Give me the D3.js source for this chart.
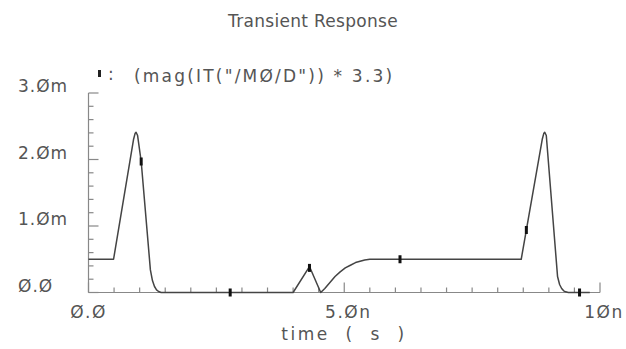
<!DOCTYPE html>
<html>
<head>
<meta charset="utf-8">
<script src="https://cdn.jsdelivr.net/npm/d3@7"></script>
<style>
  body { margin: 0; background: #fff; }
  svg text { font-family: "DejaVu Sans", sans-serif; fill: #555; white-space: pre; }
</style>
</head>
<body>
<div id="chart-container" style="width:626px;height:349px"></div>
<script>
// waveform, time in ns, current in mA
var timeNs = [0, 0.49, 0.88, 0.91, 0.93, 0.96, 1.03, 1.21, 1.25, 1.29, 1.33, 1.37, 1.42, 1.5,
    4.0, 4.32, 4.54, 4.62, 4.72, 4.82, 4.92, 5.02, 5.12, 5.22, 5.31, 5.4, 5.5, 5.6,
    8.46, 8.87, 8.9, 8.92, 8.95, 9.17, 9.21, 9.25, 9.29, 9.33, 9.38, 9.8];
var currentMa = [0.5, 0.5, 2.3, 2.39, 2.41, 2.36, 1.97, 0.34, 0.18, 0.09, 0.04, 0.015, 0, 0,
    0, 0.39, 0, 0.06, 0.15, 0.24, 0.31, 0.37, 0.41, 0.45, 0.47, 0.49, 0.5, 0.5,
    0.5, 2.3, 2.39, 2.41, 2.36, 0.24, 0.12, 0.06, 0.025, 0.01, 0, 0];
var markerT = [1.03, 2.77, 4.32, 6.09, 8.56, 9.6];
var markerV = [1.97, 0, 0.37, 0.5, 0.94, 0];

var xTickLabels = ["Ø.Ø", "5.Øn", "1Øn"];
var yTickLabels = ["Ø.Ø", "1.Øm", "2.Øm", "3.Øm"];
var titleText = "Transient Response";
var legendText = "(mag(IT(\"/MØ/D\")) * 3.3)";
var xLabelText = "time  (  s  )";

var width = 626, height = 349;
var svg = d3.select("#chart-container").append("svg")
    .attr("width", width)
    .attr("height", height);

var xScale = d3.scaleLinear().domain([0, 10]).range([88.5, 600]);
var yScale = d3.scaleLinear().domain([0, 3]).range([292.5, 93]);

var axisColor = "#888";

// x axis
var xAxis = svg.append("g").attr("class", "axis axis--x");
xAxis.append("line")
    .attr("x1", xScale(0)).attr("x2", xScale(10))
    .attr("y1", yScale(0)).attr("y2", yScale(0))
    .attr("stroke", axisColor).attr("stroke-width", 1.2);
xAxis.selectAll(".tick")
    .data(d3.range(0, 10.01, 0.5)).enter().append("line")
    .attr("x1", d => xScale(d)).attr("x2", d => xScale(d))
    .attr("y1", yScale(0))
    .attr("y2", d => yScale(0) - (Math.abs(d % 5) < 0.01 ? 10 : 5))
    .attr("stroke", axisColor).attr("stroke-width", 1.2);
xAxis.selectAll("text")
    .data(xTickLabels).enter().append("text")
    .attr("x", (d, i) => xScale(i * 5) + (i == 0 ? 0 : 4))
    .attr("y", 318)
    .attr("text-anchor", "middle")
    .attr("font-size", 17)
    .attr("letter-spacing", 1.5)
    .text(d => d);

// y axis
var yAxis = svg.append("g").attr("class", "axis axis--y");
yAxis.append("line")
    .attr("x1", xScale(0)).attr("x2", xScale(0))
    .attr("y1", yScale(0)).attr("y2", yScale(3))
    .attr("stroke", axisColor).attr("stroke-width", 1.2);
yAxis.selectAll(".tick")
    .data(d3.range(0, 3.01, 0.2)).enter().append("line")
    .attr("x1", xScale(0))
    .attr("x2", d => xScale(0) + (Math.abs(d - Math.round(d)) < 0.01 ? 10 : 5))
    .attr("y1", d => yScale(d)).attr("y2", d => yScale(d))
    .attr("stroke", axisColor).attr("stroke-width", 1.2);
yAxis.selectAll("text")
    .data(yTickLabels).enter().append("text")
    .attr("x", 18)
    .attr("y", (d, i) => yScale(i) - 1)
    .attr("font-size", 17)
    .attr("letter-spacing", 1)
    .text(d => d);

// waveform
var points = timeNs.map((t, i) => [t, currentMa[i]]);
var line = d3.line()
    .x(d => xScale(d[0]))
    .y(d => yScale(d[1]));
svg.append("path")
    .datum(points)
    .attr("d", line)
    .attr("fill", "none")
    .attr("stroke", "#444")
    .attr("stroke-width", 1.5)
    .attr("stroke-linejoin", "round");

svg.selectAll(".marker")
    .data(markerT).enter().append("rect")
    .attr("class", "marker")
    .attr("x", d => xScale(d) - 1.5)
    .attr("y", (d, i) => yScale(markerV[i]) - 4)
    .attr("width", 3)
    .attr("height", 8)
    .attr("fill", "#111");

// legend
svg.append("rect")
    .attr("x", 98).attr("y", 70)
    .attr("width", 3).attr("height", 7)
    .attr("fill", "#222");
svg.append("text")
    .attr("x", 108).attr("y", 80)
    .attr("font-size", 17)
    .text(":");
svg.append("text")
    .attr("x", 134).attr("y", 82)
    .attr("font-size", 17)
    .attr("letter-spacing", 2.2)
    .text(legendText);

// title and x label
svg.append("text")
    .attr("x", 313).attr("y", 27)
    .attr("text-anchor", "middle")
    .attr("font-size", 17)
    .attr("letter-spacing", 0.3)
    .text(titleText);
svg.append("text")
    .attr("x", 344).attr("y", 340)
    .attr("text-anchor", "middle")
    .attr("font-size", 17)
    .attr("letter-spacing", 2.5)
    .text(xLabelText);
</script>
</body>
</html>
